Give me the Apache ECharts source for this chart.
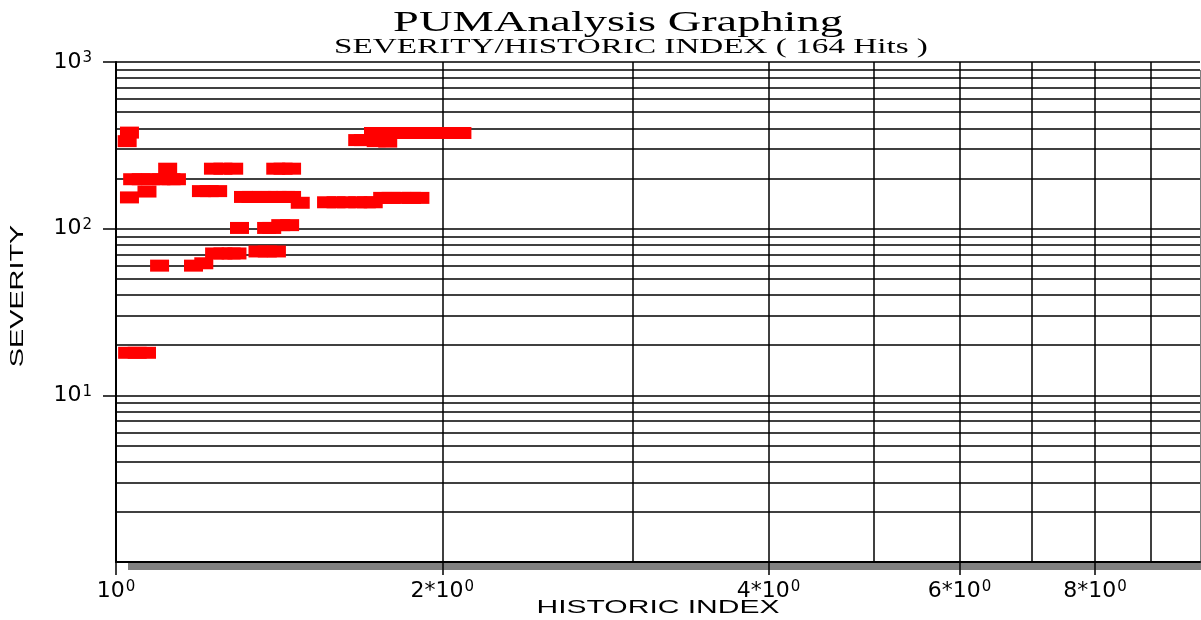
<!DOCTYPE html>
<html>
<head>
<meta charset="utf-8">
<title>PUMAnalysis Graphing</title>
<script src="https://cdn.jsdelivr.net/npm/echarts@6/dist/echarts.min.js"></script>
<style>
  html, body { margin: 0; padding: 0; background: #fff; }
  #chart { width: 1201px; height: 620px; }
</style>
</head>
<body>
<div id="chart"></div>
<script>
// hits: historic index (x) and severity (y), same order
const historic = [
  1.029, 1.024,
  1.036, 1.055, 1.077, 1.100, 1.124, 1.137,
  1.116, 1.029, 1.068,
  1.230, 1.255, 1.284,
  1.404, 1.426, 1.452,
  1.199, 1.219, 1.241,
  1.311, 1.332, 1.361, 1.384, 1.408, 1.434, 1.452,
  1.479,
  1.564, 1.596, 1.631, 1.671, 1.702, 1.727,
  1.762, 1.794, 1.833, 1.873, 1.907,
  1.671, 1.691, 1.738, 1.781,
  1.728, 1.757, 1.794, 1.833, 1.873, 1.913, 1.953, 1.995, 2.039, 2.085,
  1.300, 1.377, 1.392, 1.419, 1.446,
  1.233, 1.255, 1.277, 1.293,
  1.352, 1.379, 1.406,
  1.097, 1.179, 1.205,
  1.025, 1.046, 1.067
];
const severity = [
  377, 335,
  198, 198, 198, 198, 198, 198,
  229, 154, 167,
  229, 229, 229,
  229, 229, 229,
  168, 168, 168,
  155, 155, 155, 155, 155, 155, 155,
  143,
  144, 144, 144, 144, 144, 144,
  153, 153, 153, 153, 153,
  340, 340, 335, 333,
  375, 375, 375, 375, 375, 375, 375, 375, 375, 375,
  101, 101, 101, 105, 105,
  71, 71, 71, 71,
  73, 73, 73,
  60, 60, 62,
  18, 18, 18
];

// labelled ticks ("^" marks the exponent)
const xTickValues = [1, 2, 4, 6, 8];
const xTickLabels = ['10^0', '2*10^0', '4*10^0', '6*10^0', '8*10^0'];
const yTickValues = [10, 100, 1000];
const yTickLabels = ['10^1', '10^2', '10^3'];

// log grid lines inside the plot
const xGridValues = [2, 3, 4, 5, 6, 7, 8, 9];
const yGridValues = [
  2, 3, 4, 5, 6, 7, 8, 9, 10,
  20, 30, 40, 50, 60, 70, 80, 90, 100,
  200, 300, 400, 500, 600, 700, 800, 900, 1000
];

const chart = echarts.init(document.getElementById('chart'));

const points = historic.map((x, i) => [x, severity[i]]);
const gridLines = xGridValues.map(v => ({ xAxis: v }))
  .concat(yGridValues.map(v => ({ yAxis: v })));

// label lookup for the custom tick values, exponent as rich text
function tickLabel(values, labels) {
  return function (value) {
    const i = values.findIndex(v => Math.abs(v - value) < v * 1e-6);
    if (i < 0) return '';
    const parts = labels[i].split('^');
    return '{b|' + parts[0] + '}{s|' + parts[1] + '}';
  };
}

const labelRich = {
  b: { color: '#000', fontFamily: 'DejaVu Sans', fontSize: 22, lineHeight: 22, verticalAlign: 'bottom' },
  s: { color: '#000', fontFamily: 'DejaVu Sans', fontSize: 15, lineHeight: 22, verticalAlign: 'top', padding: [0, 0, 6, 1] },
};

const option = {
  animation: false,
  backgroundColor: '#fff',
  grid: {
    left: 116,
    right: 1,
    top: 62,
    bottom: 58,
    show: true,
    borderWidth: 0,
    backgroundColor: '#fff',
    // grey drop shadow under the plot
    shadowColor: '#808080',
    shadowBlur: 0,
    shadowOffsetX: 12,
    shadowOffsetY: 8,
    outerBoundsMode: 'none',
  },
  xAxis: {
    type: 'log',
    logBase: 10,
    min: 1,
    max: 10,
    z: 3,
    axisLine: { show: true, onZero: false, lineStyle: { color: '#000', width: 2 } },
    axisTick: {
      show: true,
      length: 13,
      customValues: xTickValues,
      lineStyle: { color: '#000', width: 1.5 },
    },
    axisLabel: {
      customValues: xTickValues,
      formatter: tickLabel(xTickValues, xTickLabels),
      margin: 18,
      rich: labelRich,
    },
    splitLine: { show: false },
  },
  yAxis: {
    type: 'log',
    logBase: 10,
    min: 1,
    max: 1000,
    z: 3,
    axisLine: { show: true, onZero: false, lineStyle: { color: '#000', width: 2 } },
    axisTick: {
      show: true,
      length: 13,
      customValues: yTickValues,
      lineStyle: { color: '#000', width: 1.5 },
    },
    axisLabel: {
      customValues: yTickValues,
      formatter: tickLabel(yTickValues, yTickLabels),
      margin: 24,
      rich: labelRich,
    },
    splitLine: { show: false },
  },
  series: [
    {
      type: 'scatter',
      data: points,
      symbol: 'rect',
      symbolSize: [19, 12],
      itemStyle: { color: '#ff0000', opacity: 1 },
      z: 2,
      markLine: {
        silent: true,
        z: 1,
        symbol: ['none', 'none'],
        label: { show: false },
        lineStyle: { color: '#000', width: 1.5, type: 'solid' },
        emphasis: { disabled: true },
        data: gridLines,
      },
    },
  ],
  graphic: [
    {
      type: 'text',
      x: 618,
      y: 23,
      scaleX: 1.6,
      style: {
        text: 'PUMAnalysis Graphing',
        font: '29px "Liberation Serif"',
        fill: '#000',
        align: 'center',
        verticalAlign: 'middle',
      },
    },
    {
      type: 'text',
      x: 631,
      y: 47,
      scaleX: 1.58,
      style: {
        text: 'SEVERITY/HISTORIC INDEX ( 164 Hits )',
        font: '21px "Liberation Serif"',
        fill: '#000',
        align: 'center',
        verticalAlign: 'middle',
      },
    },
    {
      type: 'text',
      x: 658,
      y: 608,
      scaleX: 1.58,
      style: {
        text: 'HISTORIC INDEX',
        font: '19px "Liberation Sans"',
        fill: '#000',
        align: 'center',
        verticalAlign: 'middle',
      },
    },
    {
      type: 'text',
      x: 18,
      y: 296,
      rotation: Math.PI / 2,
      scaleX: 1.6,
      style: {
        text: 'SEVERITY',
        font: '18px "Liberation Sans"',
        fill: '#000',
        align: 'center',
        verticalAlign: 'middle',
      },
    },
  ],
};

chart.setOption(option);
</script>
</body>
</html>
